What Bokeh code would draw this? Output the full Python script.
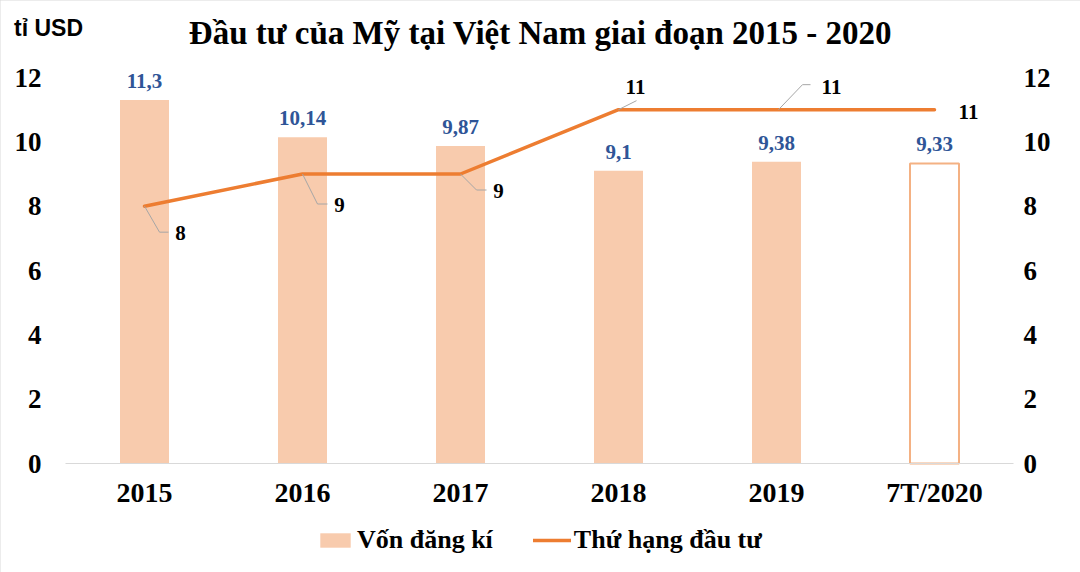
import numpy as np
from bokeh.plotting import figure
from bokeh.models import (ColumnDataSource, FixedTicker, LinearAxis, Range1d,
                          Legend, LegendItem, Label)
from bokeh.core.properties import value
from bokeh.embed import file_html
from bokeh.resources import INLINE

# ---- data ----
categories = ["2015", "2016", "2017", "2018", "2019", "7T/2020"]
von_dang_ki = [11.3, 10.14, 9.87, 9.1, 9.38, 9.33]
von_labels = ["11,3", "10,14", "9,87", "9,1", "9,38", "9,33"]
thu_hang = [8, 9, 9, 11, 11, 11]
y_ticks = [0, 2, 4, 6, 8, 10, 12]
y_max = 12

# ---- style ----
SERIF = "Liberation Serif"
BAR = "#F8CBAD"
BAR_EDGE = "#F4B183"
LINE = "#ED7D31"
BLUE = "#2F5597"
GREY = "#A6A6A6"

W, H = 1080, 572
# plot area (in canvas px) inside a frame that fills the whole canvas
AREA_L, AREA_R, AREA_T, AREA_B = 65, 1013, 77, 463
n = len(categories)
px_x = (AREA_R - AREA_L) / n               # px per category
px_y = (AREA_B - AREA_T) / y_max           # px per unit

x_lo = -0.5 - AREA_L / px_x
x_hi = n - 0.5 + (W - AREA_R) / px_x
y_lo = -(H - AREA_B) / px_y
y_hi = y_max + AREA_T / px_y

xs = np.arange(n)

p = figure(width=W, height=H, output_backend="svg", toolbar_location=None,
           x_range=Range1d(x_lo, x_hi), y_range=Range1d(y_lo, y_hi),
           min_border=0, outline_line_color=None,
           background_fill_color="white", border_fill_color="white")
p.styles = {"outline": "2px solid #D9D9D9", "outline-offset": "-2px"}
p.xgrid.visible = False
p.ygrid.visible = False
p.yaxis.visible = False
p.xaxis.visible = False

# bars
n_full = n - 1
bar_src = ColumnDataSource(dict(x=xs[:n_full], top=von_dang_ki[:n_full]))
bars = p.vbar(x="x", top="top", width=0.31, source=bar_src,
              fill_color=BAR, line_color=None)
last_src = ColumnDataSource(dict(x=xs[n_full:], top=von_dang_ki[n_full:]))
p.vbar(x="x", top="top", width=0.31, source=last_src,
       fill_color=None, line_color=BAR_EDGE, line_width=2)

# bar value labels
lab_src = ColumnDataSource(dict(x=xs, y=von_dang_ki, t=von_labels))
p.text(x="x", y="y", text="t", source=lab_src, text_align="center",
       text_baseline="middle", y_offset=-19, text_color=BLUE,
       text_font=value(SERIF), text_font_style="bold", text_font_size="21px")

# rank line (secondary axis, same scale)
p.extra_y_ranges = {"rank": Range1d(y_lo, y_hi)}
line = p.line(xs, thu_hang, line_color=LINE, line_width=3.5, y_range_name="rank",
              line_cap="round", line_join="round")

# rank labels with leader lines (offsets in px: right, down)
lbl_off = [(36, 27), (37, 31), (38, 17), (17, -23), (55, -23), (34, 2)]
leaders = [[(0, 0), (15, 26), (24, 26)],
           [(0, 0), (15, 30), (25, 30)],
           [(0, 0), (16, 16), (26, 16)],
           [(0, 0), (18, -9)],
           [(2, 0), (26, -25), (34, -25)],
           None]
lxs, lys = [], []
for i, pts in enumerate(leaders):
    if pts is None:
        continue
    lxs.append([xs[i] + dx / px_x for dx, dy in pts])
    lys.append([thu_hang[i] - dy / px_y for dx, dy in pts])
p.multi_line(lxs, lys, line_color=GREY, line_width=1, y_range_name="rank")

rank_src = ColumnDataSource(dict(
    x=[xs[i] + lbl_off[i][0] / px_x for i in range(n)],
    y=[thu_hang[i] - lbl_off[i][1] / px_y for i in range(n)],
    t=[str(v) for v in thu_hang]))
p.text(x="x", y="y", text="t", source=rank_src, y_range_name="rank",
       text_align="center", text_baseline="middle", text_color="black",
       text_font=value(SERIF), text_font_style="bold", text_font_size="21px")

# axes, pinned to the plot area edges
xaxis = LinearAxis(ticker=FixedTicker(ticks=list(xs)), fixed_location=0,
                   major_label_overrides={int(i): c for i, c in zip(xs, categories)},
                   bounds=(-0.5, n - 0.5))
xaxis.axis_line_color = "#D9D9D9"
xaxis.axis_line_width = 1
xaxis.major_tick_line_color = None
xaxis.minor_tick_line_color = None
xaxis.major_tick_out = 0
xaxis.major_tick_in = 0
xaxis.major_label_standoff = 13
xaxis.major_label_text_font = SERIF
xaxis.major_label_text_font_style = "bold"
xaxis.major_label_text_font_size = "28px"
xaxis.major_label_text_color = "black"
p.add_layout(xaxis, "below")

for side, rng, loc, stand in (("left", "default", -0.5, 24),
                              ("right", "rank", n - 0.5, 10)):
    ax = LinearAxis(ticker=FixedTicker(ticks=y_ticks), y_range_name=rng,
                    fixed_location=loc)
    ax.axis_line_color = None
    ax.major_tick_line_color = None
    ax.minor_tick_line_color = None
    ax.major_tick_out = 0
    ax.major_tick_in = 0
    ax.major_label_standoff = stand
    ax.major_label_text_font = SERIF
    ax.major_label_text_font_style = "bold"
    ax.major_label_text_font_size = "27px"
    ax.major_label_text_color = "black"
    p.add_layout(ax, side)

# legend
legend = Legend(items=[LegendItem(label="Vốn đăng kí", renderers=[bars]),
                       LegendItem(label="Thứ hạng đầu tư", renderers=[line])],
                orientation="horizontal", location=(316, 17))
legend.label_text_font = SERIF
legend.label_text_font_style = "bold"
legend.label_text_font_size = "26px"
legend.label_text_color = "black"
legend.glyph_width = 38
legend.glyph_height = 18
legend.label_standoff = 3
legend.spacing = 40
legend.padding = 4
legend.margin = 0
legend.border_line_color = None
legend.background_fill_alpha = 0
p.add_layout(legend, "center")

# title and unit label
title_x = (540 - AREA_L) / px_x - 0.5
title_y = (AREA_B - 32) / px_y
p.add_layout(Label(x=title_x, y=title_y, text="Đầu tư của Mỹ tại Việt Nam giai đoạn 2015 - 2020",
                   text_align="center", text_baseline="middle",
                   text_font=SERIF, text_font_style="bold", text_font_size="33px",
                   text_color="black"))
unit_x = (48 - AREA_L) / px_x - 0.5
unit_y = (AREA_B - 27) / px_y
p.add_layout(Label(x=unit_x, y=unit_y, text="tỉ USD", text_align="center",
                   text_baseline="middle", text_font="Liberation Sans",
                   text_font_style="bold", text_font_size="23px", text_color="black"))

open("out.html", "w").write(file_html(p, INLINE))
